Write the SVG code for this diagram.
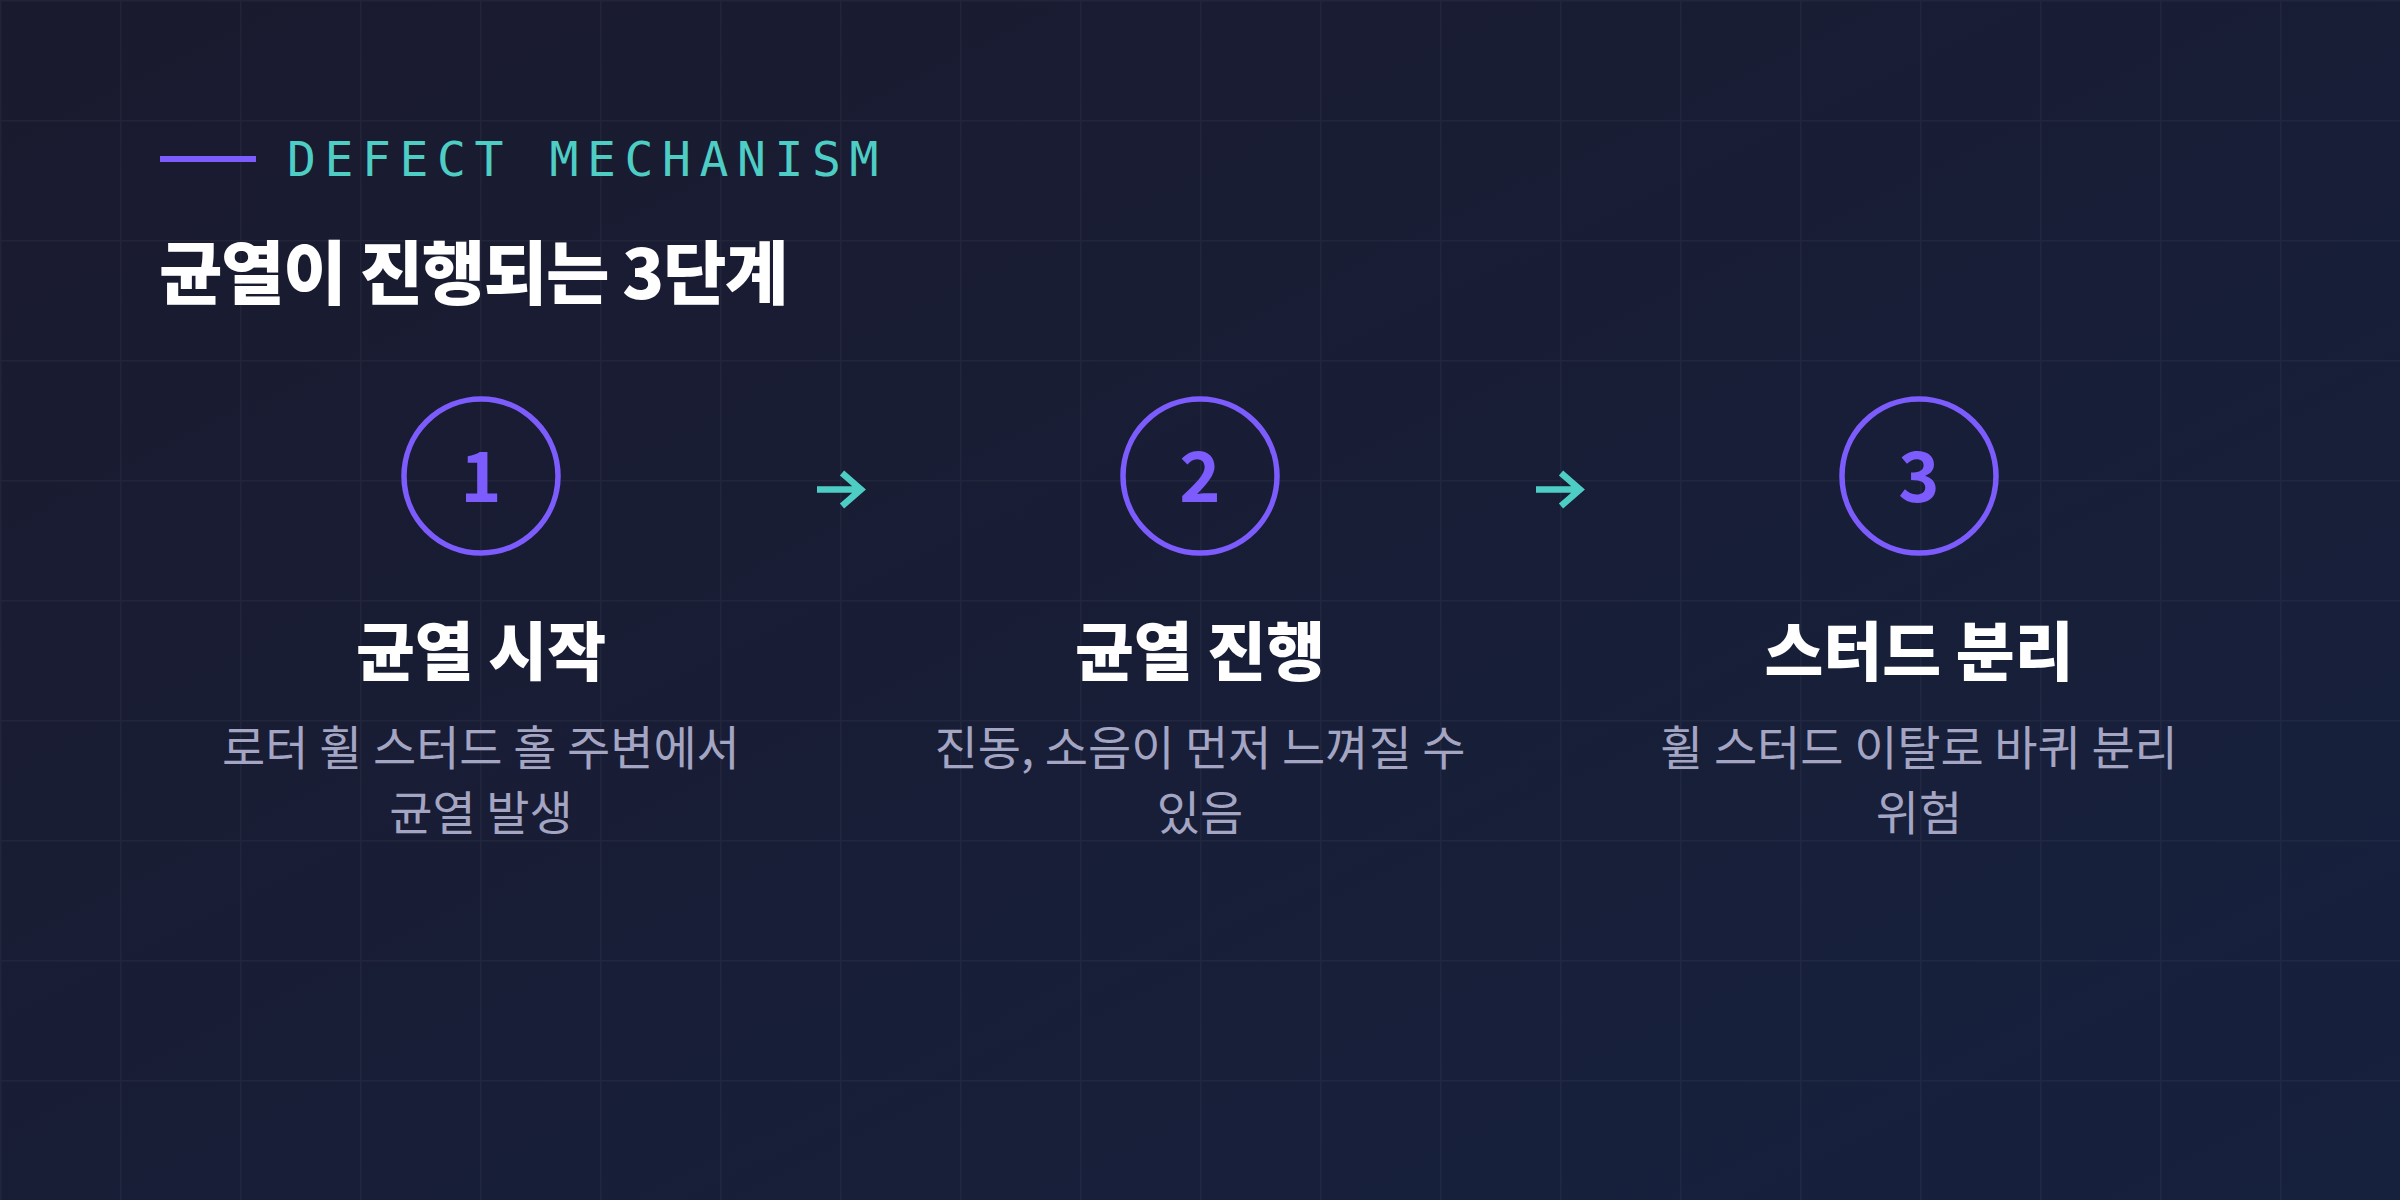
<svg xmlns="http://www.w3.org/2000/svg" width="2400" height="1200" viewBox="0 0 2400 1200">
  <defs>
    <linearGradient id="bg" x1="0" y1="0" x2="1" y2="1">
      <stop offset="0" stop-color="#1a1a2e"/>
      <stop offset="1" stop-color="#16213e"/>
    </linearGradient>
    <pattern id="grid" width="120" height="120" patternUnits="userSpaceOnUse">
      <path d="M0 0.75 H120 M0.75 0 V120" fill="none" stroke="#ffffff" stroke-opacity="0.04" stroke-width="1.5"/>
    </pattern>
    <style>
      .kicker { font-family: "DejaVu Sans Mono", "Liberation Mono", monospace; font-size: 48px; fill: #4ecdc4; letter-spacing: 8.6px; }
      .title { font-family: "Noto Sans CJK KR", "Noto Sans", sans-serif; font-weight: 800; font-size: 69px; fill: #ffffff; letter-spacing: -1.4px; }
      .num { font-family: "Noto Sans CJK KR", "Noto Sans", sans-serif; font-weight: 700; font-size: 70px; fill: #7c5cfc; text-anchor: middle; }
      .ring { fill: none; stroke: #7c5cfc; stroke-width: 5.5; }
      .stage { font-family: "Noto Sans CJK KR", "Noto Sans", sans-serif; font-weight: 800; font-size: 64px; fill: #ffffff; text-anchor: middle; }
      .desc { font-family: "Noto Sans CJK KR", "Noto Sans", sans-serif; font-weight: 400; font-size: 47px; fill: #a4a5c3; text-anchor: middle; }
      .arrow { fill: none; stroke: #4ecdc4; stroke-width: 6.5; stroke-linejoin: miter; }
    </style>
  </defs>
  <rect width="2400" height="1200" fill="url(#bg)"/>
  <rect width="2400" height="1200" fill="url(#grid)"/>

  <g id="header">
    <rect x="160" y="156" width="96" height="6" fill="#7c5cfc"/>
    <text class="kicker" x="287" y="176">DEFECT MECHANISM</text>
    <text class="title" x="159" y="299">균열이 진행되는 3단계</text>
  </g>

  <g id="connectors">
    <path class="arrow" d="M817 489.5 H860 M842 473 L861 489.5 L842 506"/>
    <path class="arrow" d="M1536 489.5 H1579 M1561 473 L1580 489.5 L1561 506"/>
  </g>

  <g id="step1">
    <circle class="ring" cx="481" cy="476" r="77"/>
    <text class="num" x="481" y="502">1</text>
    <text class="stage" x="481" y="675">균열 시작</text>
    <text class="desc" x="481" y="765">로터 휠 스터드 홀 주변에서</text>
    <text class="desc" x="481" y="830">균열 발생</text>
  </g>

  <g id="step2">
    <circle class="ring" cx="1200" cy="476" r="77"/>
    <text class="num" x="1200" y="502">2</text>
    <text class="stage" x="1200" y="675">균열 진행</text>
    <text class="desc" x="1200" y="765">진동, 소음이 먼저 느껴질 수</text>
    <text class="desc" x="1200" y="830">있음</text>
  </g>

  <g id="step3">
    <circle class="ring" cx="1919" cy="476" r="77"/>
    <text class="num" x="1919" y="502">3</text>
    <text class="stage" x="1919" y="675">스터드 분리</text>
    <text class="desc" x="1919" y="765">휠 스터드 이탈로 바퀴 분리</text>
    <text class="desc" x="1919" y="830">위험</text>
  </g>
</svg>
